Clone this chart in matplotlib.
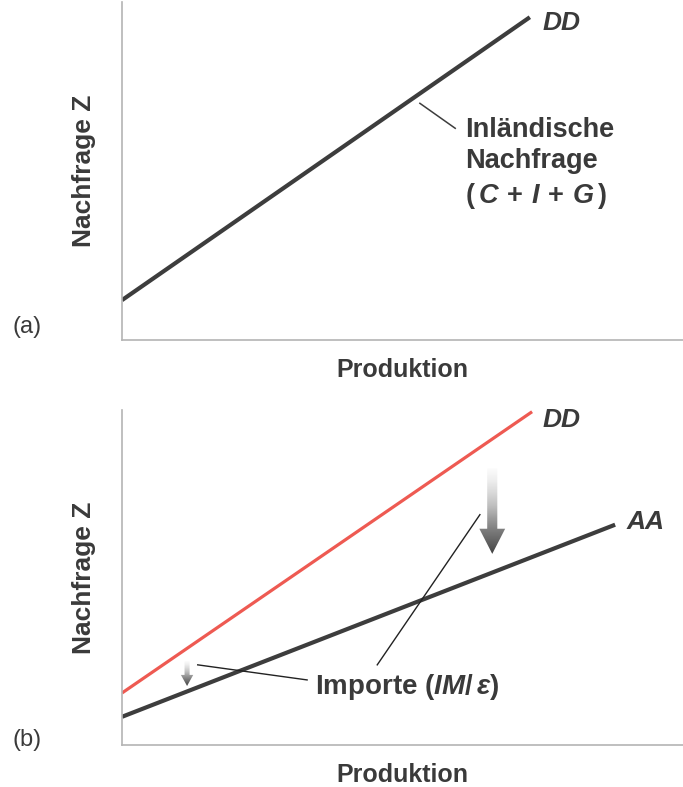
import numpy as np
import matplotlib
matplotlib.use("Agg")
import matplotlib.pyplot as plt
from matplotlib.patches import FancyArrow

plt.rcParams['font.family'] = ['Liberation Sans', 'DejaVu Sans']
plt.rcParams['mathtext.fontset'] = 'custom'
plt.rcParams['mathtext.rm'] = 'Liberation Sans:bold'
plt.rcParams['mathtext.it'] = 'Liberation Sans:italic:bold'
plt.rcParams['mathtext.bf'] = 'Liberation Sans:bold'

# data (both axes run 0..10)
dd_a_x = [0.0, 7.27]
dd_a_y = [1.18, 9.56]
dd_b_x = [0.0, 7.31]
dd_b_y = [1.55, 9.94]
aa_b_x = [0.0, 8.79]
aa_b_y = [0.84, 6.57]

txt = '#3a3a3a'
spine = '#b4b4b4'

fig = plt.figure(figsize=(6.83, 7.87), dpi=100)
ax_a = fig.add_axes([0.1786, 0.568, 0.8214, 0.429])
ax_b = fig.add_axes([0.1786, 0.0534, 0.8214, 0.426])

for ax in (ax_a, ax_b):
    ax.set_xlim(0, 10)
    ax.set_ylim(0, 10)
    ax.set_xticks([])
    ax.set_yticks([])
    for s in ('top', 'right'):
        ax.spines[s].set_visible(False)
    for s in ('left', 'bottom'):
        ax.spines[s].set_color(spine)
        ax.spines[s].set_linewidth(1.2)
    ax.set_xlabel('Produktion', fontsize=18, fontweight='bold', color=txt, labelpad=13)
    ax.set_ylabel('Nachfrage Z', fontsize=19, fontweight='bold', color=txt, labelpad=19)
    ax.patch.set_alpha(0)

# panel (a)
ax_a.plot(dd_a_x, dd_a_y, color='#3d3d3d', lw=3.0, solid_capstyle='butt')
ax_a.text(7.5, 9.4, 'DD', fontsize=19, fontweight='bold', fontstyle='italic',
          color=txt, va='center', ha='left')
ax_a.plot([5.31, 5.94], [7.01, 6.27], color='#3d3d3d', lw=1.1)
ax_a.text(6.11, 6.21, 'Inländische', fontsize=19.5, fontweight='bold', color=txt, va='center')
ax_a.text(6.11, 5.30, 'Nachfrage', fontsize=19.5, fontweight='bold', color=txt, va='center')
ax_a.text(6.11, 4.27, r'$(\,C\,+\,I\,+\,G\,)$', fontsize=19.5, color=txt, va='center')
fig.text(0.018, 1 - 327 / 787, '(a)', fontsize=17, color=txt, va='center')

# panel (b)
ax_b.plot(dd_b_x, dd_b_y, color='#ee5a52', lw=2.3, solid_capstyle='butt')
ax_b.plot(aa_b_x, aa_b_y, color='#3d3d3d', lw=3.0, solid_capstyle='butt')
ax_b.text(7.5, 9.7, 'DD', fontsize=19, fontweight='bold', fontstyle='italic',
          color=txt, va='center', ha='left')
ax_b.text(9.0, 6.65, 'AA', fontsize=19, fontweight='bold', fontstyle='italic',
          color=txt, va='center', ha='left')


def grad_arrow(ax, x, y0, y1, w, hw, hl):
    arr = FancyArrow(x, y0, 0, y1 - y0, width=w, head_width=hw, head_length=hl,
                     length_includes_head=True, facecolor='none', edgecolor='none')
    ax.add_patch(arr)
    grad = np.linspace(0.03, 0.8, 100).reshape(-1, 1)
    im = ax.imshow(grad, cmap='Greys', vmin=0, vmax=1, aspect='auto',
                   extent=[x - hw, x + hw, y1, y0], origin='upper', zorder=3)
    im.set_clip_path(arr)
    ax.set_xlim(0, 10)
    ax.set_ylim(0, 10)


grad_arrow(ax_b, 6.60, 8.25, 5.70, 0.18, 0.46, 0.75)
grad_arrow(ax_b, 1.16, 2.50, 1.76, 0.09, 0.22, 0.33)

ax_b.plot([6.38, 4.55], [6.87, 2.39], color='#222222', lw=1.0)
ax_b.plot([1.35, 3.30], [2.39, 1.94], color='#222222', lw=1.0)
ax_b.text(3.44, 1.72, r'Importe ($IM/\,\varepsilon$)', fontsize=20, fontweight='bold',
          color=txt, va='center')
fig.text(0.018, 1 - 740 / 787, '(b)', fontsize=17, color=txt, va='center')

fig.savefig('out.png', dpi=100)
